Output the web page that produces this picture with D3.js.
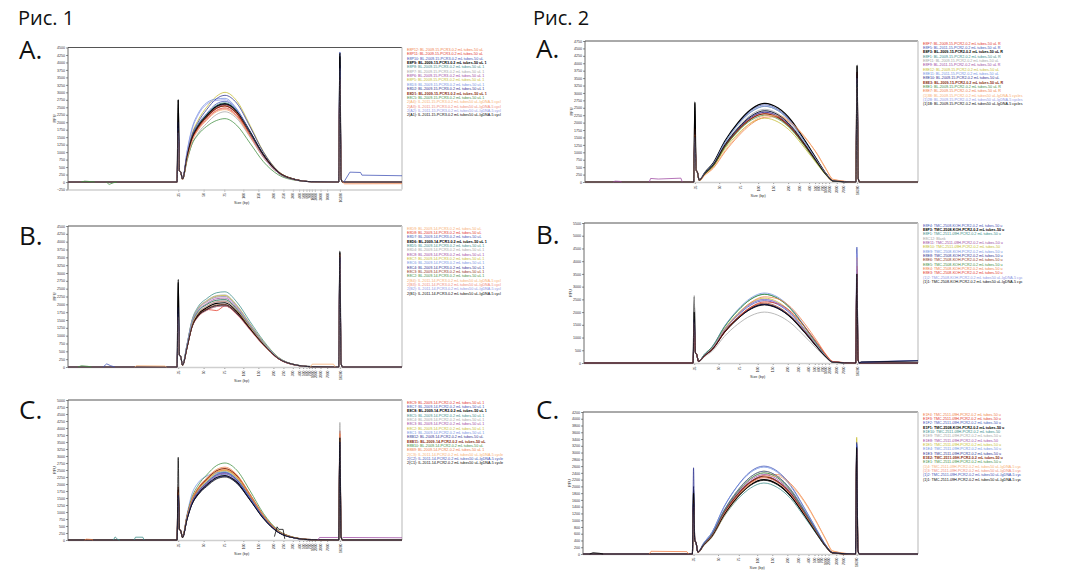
<!DOCTYPE html>
<html>
<head>
<meta charset="utf-8">
<script src="https://cdn.jsdelivr.net/npm/d3@7"></script>
<style>
  body { margin: 0; background: #fff; }
  svg text { font-family: "Liberation Sans", Arial, sans-serif; }
  .big { font-family: "Open Sans", "Noto Sans", sans-serif !important; }
</style>
</head>
<body>
<svg id="fig" width="1068" height="577"></svg>
<script>
// migration time points (arbitrary units 0..100) where smear values were read
var times1 = [34.3, 35.6, 37, 39, 41.5, 44.5, 47, 50.5, 54.5, 58.5, 63, 68, 73];
var times2 = [34.3, 36, 38.5, 42, 46, 50, 54, 58, 62, 66, 70, 72.5, 74.5];

// ladder ticks on the size axis
var sizeLabels1 = ["35","50","75","100","150","200","250","300","400","500","600","700","1000","2000","3000","7000","10380"];
var sizeTimes1 = [33, 40.6, 46.8, 52.5, 57, 61.5, 64.5, 67.3, 69.2, 70.4, 71.4, 72.2, 73, 73.9, 75.6, 77.6, 81.4];
var sizeLabels2 = ["35","50","75","100","150","200","300","400","500","600","700","1000","2000","3000","7000","10380"];
var sizeTimes2 = [33, 40.3, 46.5, 52, 56.5, 61, 64.3, 67.3, 69.1, 70.2, 71.2, 72.2, 73.3, 75.6, 77.6, 81.7];

// marker shoulders (RFU right after lower marker)
var lmTail1 = [380, 330];
var lmTail2 = [420, 330];

// ---------- Рис. 1 A ----------
var names1A = [
  "E8P12: BL-2009-15-PCR3-0.2 mL tubes-50 uL",
  "E8P11: BL-2009-15-PCR3-0.2 mL tubes-50 uL",
  "E8P10: BL-2009-15-PCR3-0.2 mL tubes-50 uL",
  "E8P9: BL-2009-15-PCR3-0.2 mL tubes-50 uL 1",
  "E8P8: BL-2009-15-PCR3-0.2 mL tubes-50 uL 1",
  "E8P7: BL-2009-15-PCR3-0.2 mL tubes-50 uL 1",
  "E8P6: BL-2009-15-PCR3-0.2 mL tubes-50 uL 1",
  "E8P5: BL-2009-15-PCR3-0.2 mL tubes-50 uL 1",
  "E8D3: BL-2009-15-PCR3-0.2 mL tubes-50 uL 1",
  "E8D2: BL-2009-15-PCR3-0.2 mL tubes-50 uL 1",
  "E8D1: BL-2009-15-PCR3-0.2 mL tubes-50 uL 1",
  "E8C5: BL-2009-15-PCR3-0.2 mL tubes-50 uL 1",
  "2(A4): IL-2011-15-PCR3-0.2 mL tubes50 uL-lgDNA-5 cycl",
  "2(A3): IL-2011-15-PCR3-0.2 mL tubes50 uL-lgDNA-5 cycl",
  "2(A2): IL-2011-15-PCR3-0.2 mL tubes50 uL-lgDNA-5 cycl",
  "2(A1): IL-2011-15-PCR3-0.2 mL tubes50 uL-lgDNA-5 cycl"
];
var lm1A = [1700, 1500, 1900, 2750, 1400, 1200, 1600, 1500, 1800, 2000, 1700, 1400, 1300, 1550, 1650, 2750];
var um1A = [3300, 3500, 4350, 4300, 3200, 3100, 3600, 3400, 3700, 3900, 3500, 3000, 3200, 3400, 3800, 4200];
var smear1A = [
  [100, 820, 1400, 1840, 2170, 2470, 2550, 2300, 1610, 870, 310, 80, 10],
  [100, 790, 1360, 1790, 2110, 2400, 2480, 2230, 1560, 840, 300, 75, 10],
  [100, 860, 1480, 1940, 2290, 2620, 2700, 2430, 1700, 920, 320, 80, 10],
  [100, 840, 1440, 1890, 2230, 2540, 2620, 2380, 1680, 920, 330, 85, 10],
  [100, 850, 1460, 1910, 2250, 2570, 2650, 2390, 1670, 900, 320, 80, 10],
  [90, 700, 1230, 1640, 1960, 2260, 2350, 2130, 1500, 820, 300, 80, 10],
  [100, 830, 1420, 1860, 2190, 2500, 2580, 2320, 1630, 880, 310, 80, 10],
  [100, 900, 1560, 2080, 2500, 2870, 3000, 2720, 1900, 1020, 360, 90, 10],
  [110, 1000, 1750, 2300, 2650, 2780, 2800, 2450, 1650, 860, 300, 75, 10],
  [100, 880, 1520, 2010, 2420, 2790, 2900, 2640, 1850, 1000, 350, 90, 10],
  [100, 820, 1400, 1840, 2170, 2470, 2550, 2300, 1620, 880, 320, 80, 10],
  [90, 700, 1230, 1590, 1860, 2060, 2120, 1900, 1300, 680, 240, 60, 10],
  [90, 760, 1320, 1740, 2060, 2350, 2420, 2180, 1530, 830, 300, 75, 10],
  [90, 770, 1340, 1760, 2080, 2380, 2450, 2200, 1540, 830, 300, 75, 10],
  [110, 980, 1700, 2250, 2600, 2730, 2750, 2420, 1640, 850, 300, 75, 10],
  [100, 830, 1430, 1870, 2210, 2520, 2600, 2360, 1660, 900, 320, 80, 10]
];
var extras1A = [
  [11, [[4, 0], [5, 30], [7, 12], [8, 0]]],
  [11, [[11.5, 0], [12.3, -80], [13.6, -25], [14.6, 0]]],
  [2, [[82.6, 0], [84.4, 330], [87.6, 320], [88, 230], [100, 210]]],
  [0, [[82.2, 0], [82.8, -60], [100, -55]]]
];

// ---------- Рис. 1 B ----------
var names1B = [
  "E8D9: BL-2009-14-PCR3-0.2 mL tubes-50 uL",
  "E8D8: BL-2009-14-PCR3-0.2 mL tubes-50 uL",
  "E8D7: BL-2009-14-PCR3-0.2 mL tubes-50 uL",
  "E8D6: BL-2009-14-PCR3-0.2 mL tubes-50 uL 1",
  "E8D5: BL-2009-14-PCR3-0.2 mL tubes-50 uL 1",
  "E8D4: BL-2009-14-PCR3-0.2 mL tubes-50 uL 1",
  "E8C8: BL-2009-14-PCR3-0.2 mL tubes-50 uL 1",
  "E8C7: BL-2009-14-PCR3-0.2 mL tubes-50 uL 1",
  "E8C6: BL-2009-14-PCR3-0.2 mL tubes-50 uL 1",
  "E8C4: BL-2009-14-PCR3-0.2 mL tubes-50 uL 1",
  "E8C3: BL-2009-14-PCR3-0.2 mL tubes-50 uL 1",
  "E8C2: BL-2009-14-PCR3-0.2 mL tubes-50 uL 1",
  "2(B4): IL-2011-14-PCR3-0.2 mL tubes50 uL-lgDNA-5 cycl",
  "2(B3): IL-2011-14-PCR3-0.2 mL tubes50 uL-lgDNA-5 cycl",
  "2(B2): IL-2011-14-PCR3-0.2 mL tubes50 uL-lgDNA-5 cycl",
  "2(B1): IL-2011-14-PCR3-0.2 mL tubes50 uL-lgDNA-5 cycl"
];
var lm1B = [1300, 1600, 1500, 2800, 1400, 1200, 1500, 1300, 1700, 1900, 1600, 1400, 1300, 1500, 1600, 2700];
var um1B = [3400, 3100, 3500, 3700, 3200, 3000, 3300, 3100, 3400, 3500, 3200, 2800, 3300, 3600, 3500, 3650];
var smear1B = [
  [70, 680, 1400, 1850, 2070, 2230, 2250, 1940, 1350, 790, 290, 70, 10],
  [60, 600, 1240, 1640, 1840, 1800, 1950, 1700, 1200, 700, 260, 60, 10],
  [60, 630, 1300, 1720, 1930, 2080, 2100, 1810, 1260, 740, 270, 65, 10],
  [60, 620, 1270, 1680, 1890, 2030, 2050, 1780, 1250, 740, 280, 70, 10],
  [70, 700, 1450, 1930, 2180, 2370, 2400, 2080, 1450, 840, 310, 75, 10],
  [70, 690, 1420, 1890, 2120, 2280, 2300, 1980, 1380, 800, 300, 70, 10],
  [60, 660, 1360, 1800, 2020, 2180, 2200, 1890, 1320, 770, 290, 70, 10],
  [70, 680, 1410, 1870, 2100, 2260, 2280, 1960, 1370, 800, 300, 70, 10],
  [70, 690, 1380, 1800, 1990, 2130, 2150, 1850, 1290, 750, 280, 65, 10],
  [60, 600, 1230, 1620, 1810, 1930, 1950, 1700, 1200, 700, 260, 65, 10],
  [60, 610, 1250, 1650, 1850, 1980, 2000, 1740, 1230, 720, 270, 70, 10],
  [60, 650, 1330, 1770, 1990, 2130, 2150, 1850, 1290, 750, 280, 65, 10],
  [60, 630, 1300, 1720, 1930, 2080, 2100, 1810, 1270, 740, 280, 70, 10],
  [60, 590, 1220, 1600, 1800, 1930, 1950, 1680, 1180, 690, 260, 60, 10],
  [70, 690, 1400, 1860, 2080, 2230, 2250, 1930, 1350, 780, 290, 70, 10],
  [60, 600, 1240, 1630, 1830, 1960, 1980, 1720, 1220, 720, 270, 70, 10]
];
var extras1B = [
  [2, [[10.5, 0], [11.6, 100], [12.8, 40], [14, 0]]],
  [11, [[3, 0], [4, 40], [6, 20], [7, 0]]],
  [0, [[20, 0], [20.5, 40], [29, 30], [29.5, 0]]],
  [0, [[72.6, 0], [73.1, 90], [79.5, 90], [80, 0]]]
];

// ---------- Рис. 1 C ----------
var names1C = [
  "E8C9: BL-2009-14-PCR2-0.2 mL tubes-50 uL 1",
  "E8C7: BL-2009-14-PCR2-0.2 mL tubes-50 uL 1",
  "E8C8: BL-2009-14-PCR2-0.2 mL tubes-50 uL 1",
  "E8C5: BL-2009-14-PCR2-0.2 mL tubes-50 uL 1",
  "E8C4: BL-2009-14-PCR2-0.2 mL tubes-50 uL 1",
  "E8C3: BL-2009-14-PCR2-0.2 mL tubes-50 uL 1",
  "E8C2: BL-2009-14-PCR2-0.2 mL tubes-50 uL 1",
  "E8C1: BL-2009-14-PCR2-0.2 mL tubes-50 uL 1",
  "E8B12: BL-2009-14-PCR2-0.2 mL tubes-50 uL",
  "E8B11: BL-2009-14-PCR2-0.2 mL tubes-50 uL",
  "E8B10: BL-2009-14-PCR2-0.2 mL tubes-50 uL",
  "E8B9: BL-2009-14-PCR2-0.2 mL tubes-50 uL 1",
  "2(C3): IL-2011-14-PCR2-0.2 mL tubes50 uL-lgDNA-5 cycle",
  "2(C2): IL-2011-14-PCR2-0.2 mL tubes50 uL-lgDNA-5 cycle",
  "2(C1): IL-2011-14-PCR2-0.2 mL tubes50 uL-lgDNA-5 cycle"
];
var lm1C = [1600, 1500, 1800, 1400, 1300, 1500, 1400, 1600, 1700, 1900, 1500, 1700, 1400, 1600, 2950];
var um1C = [3900, 3600, 3500, 3300, 4200, 3400, 3200, 3700, 3300, 3000, 3400, 3800, 3600, 3500, 3650];
var smear1C = [
  [100, 800, 1380, 1800, 2130, 2430, 2500, 2250, 1580, 850, 300, 75, 10],
  [90, 750, 1290, 1690, 2000, 2280, 2350, 2120, 1480, 800, 280, 70, 10],
  [90, 740, 1270, 1660, 1960, 2230, 2300, 2070, 1450, 780, 280, 70, 10],
  [100, 780, 1330, 1740, 2060, 2350, 2420, 2180, 1520, 820, 290, 70, 10],
  [100, 790, 1350, 1760, 2080, 2380, 2450, 2200, 1540, 830, 290, 70, 10],
  [90, 760, 1310, 1710, 2020, 2310, 2380, 2140, 1500, 810, 290, 70, 10],
  [100, 800, 1360, 1790, 2110, 2410, 2480, 2230, 1560, 840, 300, 75, 10],
  [110, 900, 1600, 2050, 2280, 2400, 2420, 2150, 1480, 790, 280, 70, 10],
  [90, 730, 1250, 1640, 1940, 2210, 2280, 2050, 1440, 780, 270, 70, 10],
  [100, 820, 1400, 1840, 2170, 2470, 2550, 2300, 1610, 870, 310, 80, 10],
  [100, 850, 1480, 1960, 2320, 2660, 2750, 2500, 1760, 950, 340, 85, 10],
  [100, 830, 1430, 1870, 2210, 2520, 2600, 2340, 1640, 890, 320, 80, 10],
  [100, 810, 1390, 1810, 2140, 2440, 2520, 2270, 1590, 860, 300, 75, 10],
  [90, 770, 1320, 1730, 2040, 2330, 2400, 2160, 1510, 820, 290, 70, 10],
  [90, 720, 1240, 1620, 1910, 2180, 2250, 2030, 1420, 770, 270, 70, 10]
];
var extras1C = [
  [3, [[13.6, 0], [14.1, 110], [14.9, 20], [15.5, 0]]],
  [3, [[19.8, 0], [20.2, 100], [22.4, 100], [22.8, 0]]],
  [11, [[5, 0], [5.5, 30], [7, 20], [7.5, 0]]],
  [14, [[61.8, 120], [62.6, 470], [63.1, 380], [64.4, 380], [64.9, 40]]],
  [5, [[74.8, 0], [75.3, 90], [80.8, 90]]],
  [5, [[82.2, 90], [100, 80]]]
];

// ---------- Рис. 2 A ----------
var names2A = [
  "E8F7: BL-2009-15-PCR2-0.2 mL tubes-50 uL R",
  "E8F5: BL-2011-15-PCR2-0.2 mL tubes-50 uL R",
  "E8F3: BL-2009-15-PCR2-0.2 mL tubes-50 uL R",
  "E8F1: BL-2009-15-PCR2-0.2 mL tubes-50 uL R",
  "E8F11: BL-2009-15-PCR2-0.2 mL tubes-50 uL",
  "E8F9: BL-2011-15-PCR2-0.2 mL tubes-50 uL R",
  "E8E12: BL-2009-15-PCR2-0.2 mL tubes-50 uL",
  "E8E11: BL-2011-15-PCR2-0.2 mL tubes-50 uL",
  "E8E10: BL-2009-15-PCR2-0.2 mL tubes-50 uL",
  "E8E3: BL-2009-15-PCR2-0.2 mL tubes-50 uL R",
  "E8E1: BL-2009-15-PCR2-0.2 mL tubes-50 uL R",
  "E8E7: BL-2009-15-PCR2-0.2 mL tubes-50 uL R",
  "(1)3B: BL-2009-15-PCR2-0.2 mL tubes50 uL-lgDNA-5 cycles",
  "(1)2B: BL-2009-15-PCR2-0.2 mL tubes50 uL-lgDNA-5 cycles",
  "(1)1B: BL-2009-15-PCR2-0.2 mL tubes50 uL-lgDNA-5 cycles"
];
var lm2A = [1700, 1500, 2700, 1400, 1300, 1600, 1300, 1500, 1700, 1800, 1400, 1600, 1300, 1500, 2650];
var um2A = [3400, 3700, 3950, 3300, 3100, 3500, 3000, 3400, 3600, 3700, 3300, 3200, 3000, 3500, 3900];
var smear2A = [
  [60, 280, 550, 1200, 1750, 2140, 2300, 2160, 1790, 1220, 600, 230, 35],
  [60, 310, 620, 1350, 1980, 2420, 2600, 2440, 2030, 1380, 680, 260, 40],
  [60, 320, 640, 1380, 2010, 2460, 2650, 2490, 2070, 1400, 690, 265, 40],
  [60, 310, 610, 1330, 1940, 2370, 2550, 2400, 1990, 1350, 660, 255, 40],
  [60, 290, 590, 1270, 1860, 2280, 2450, 2300, 1910, 1300, 640, 245, 40],
  [60, 280, 560, 1220, 1790, 2190, 2350, 2210, 1830, 1250, 610, 235, 35],
  [55, 260, 520, 1120, 1630, 2000, 2150, 2020, 1680, 1140, 560, 215, 30],
  [60, 290, 580, 1250, 1820, 2230, 2400, 2260, 1870, 1270, 620, 240, 35],
  [60, 280, 560, 1220, 1790, 2190, 2350, 2210, 1830, 1250, 610, 235, 35],
  [60, 280, 550, 1200, 1750, 2140, 2300, 2170, 1800, 1240, 620, 240, 35],
  [55, 270, 540, 1170, 1710, 2090, 2250, 2120, 1760, 1200, 590, 225, 35],
  [50, 230, 460, 1010, 1540, 1960, 2180, 2200, 1960, 1500, 900, 420, 90],
  [50, 240, 480, 1050, 1590, 2010, 2230, 2250, 2000, 1530, 880, 400, 80],
  [60, 310, 610, 1330, 1940, 2370, 2550, 2400, 1990, 1350, 660, 255, 40],
  [60, 290, 580, 1250, 1820, 2230, 2400, 2260, 1870, 1270, 620, 240, 35]
];
var extras2A = [
  [5, [[19.3, 0], [19.7, 120], [22, 100], [28.8, 130], [29.2, 0]]],
  [5, [[8.5, 0], [9, 30], [10.5, 20], [11, 0]]]
];

// ---------- Рис. 2 B ----------
var names2B = [
  "E8F4: TMC-2508-KOH-PCR2-0.2 mL tubes-50 u",
  "E8F3: TMC-2508-KOH-PCR2-0.2 mL tubes-50 u",
  "E8F1: TMC-2511-09H-PCR2-0.2 mL tubes-50 u",
  "E8C12: Blank",
  "E8E11: TMC-2511-09H-PCR2-0.2 mL tubes-50 u",
  "E8E10: TMC-2511-09H-PCR2-0.2 mL tubes-50",
  "E8E9: TMC-2508-KOH-PCR2-0.2 mL tubes-50 u",
  "E8E8: TMC-2508-KOH-PCR2-0.2 mL tubes-50 u",
  "E8E6: TMC-2508-KOH-PCR2-0.2 mL tubes-50 u",
  "E8E5: TMC-2508-KOH-PCR2-0.2 mL tubes-50 u",
  "E8E4: TMC-2508-KOH-PCR2-0.2 mL tubes-50 u",
  "E8E3: TMC-2508-KOH-PCR2-0.2 mL tubes-50 u",
  "(1)2: TMC-2508-KOH-PCR2-0.2 mL tubes50 uL-lgDNA-5 cyc",
  "(1)1: TMC-2508-KOH-PCR2-0.2 mL tubes50 uL-lgDNA-5 cyc"
];
var lm2B = [1500, 2600, 1400, 2650, 1300, 1200, 1500, 1700, 1600, 1400, 1300, 1500, 1600, 2000];
var um2B = [4550, 3600, 3300, 3000, 3400, 3200, 3900, 3700, 3500, 3300, 4150, 3800, 4300, 3500];
var smear2B = [
  [60, 300, 600, 1290, 1860, 2280, 2450, 2300, 1910, 1300, 640, 245, 40],
  [60, 280, 560, 1210, 1750, 2140, 2300, 2160, 1790, 1220, 600, 230, 35],
  [60, 330, 660, 1420, 2050, 2510, 2700, 2540, 2110, 1430, 700, 270, 40],
  [50, 240, 480, 1040, 1520, 1860, 2000, 1880, 1560, 1060, 520, 200, 30],
  [60, 300, 600, 1300, 1900, 2330, 2500, 2350, 1950, 1330, 650, 250, 40],
  [60, 310, 610, 1330, 1940, 2370, 2550, 2400, 1990, 1350, 660, 255, 40],
  [60, 330, 660, 1430, 2090, 2560, 2750, 2590, 2150, 1460, 720, 275, 40],
  [60, 280, 550, 1200, 1750, 2140, 2300, 2160, 1800, 1220, 600, 230, 35],
  [60, 280, 560, 1220, 1790, 2190, 2350, 2210, 1830, 1250, 610, 235, 35],
  [60, 330, 650, 1400, 2050, 2510, 2700, 2540, 2110, 1430, 700, 270, 40],
  [55, 290, 580, 1280, 1900, 2380, 2600, 2520, 2180, 1560, 820, 330, 60],
  [55, 270, 540, 1180, 1760, 2200, 2400, 2330, 2010, 1440, 760, 310, 55],
  [60, 300, 600, 1300, 1900, 2330, 2500, 2350, 1950, 1330, 650, 250, 40],
  [60, 280, 550, 1190, 1730, 2120, 2280, 2140, 1780, 1210, 590, 230, 35]
];
var extras2B = [
  [7, [[82.3, 0], [83, 40], [100, 100]]],
  [0, [[82.3, 0], [83, 30], [100, 90]]],
  [13, [[82.3, 0], [83, 40], [100, 80]]]
];

// ---------- Рис. 2 C ----------
var names2C = [
  "E1F4: TMC-2511-09H-PCR2-0.2 mL tubes-50 u",
  "E1F3: TMC-2511-09H-PCR2-0.2 mL tubes-50 u",
  "E1F2: TMC-2511-09H-PCR2-0.2 mL tubes-50 u",
  "E1F1: TMC-2508-KOH-PCR2-0.2 mL tubes-50 u",
  "E1E10: TMC-2511-09H-PCR2-0.2 mL tubes-50",
  "E1E9: TMC-2511-09H-PCR2-0.2 mL tubes-50 u",
  "E1E8: TMC-2511-09H-PCR2-0.2 mL tubes-50",
  "E1E5: TMC-2511-09H-PCR2-0.2 mL tubes-50 u",
  "E1E4: TMC-2511-09H-PCR2-0.2 mL tubes-50 u",
  "E1E3: TMC-2511-09H-PCR2-0.2 mL tubes-50 u",
  "E1E2: TMC-2511-09H-PCR2-0.2 mL tubes-50 u",
  "E1E1: TMC-2511-09H-PCR2-0.2 mL tubes-50 u",
  "(1)4: TMC-2511-09H-PCR2-0.2 mL tubes50 uL-lgDNA-5 cyc",
  "(1)3: TMC-2511-09H-PCR2-0.2 mL tubes50 uL-lgDNA-5 cyc",
  "(1)2: TMC-2511-09H-PCR2-0.2 mL tubes50 uL-lgDNA-5 cyc",
  "(1)1: TMC-2511-09H-PCR2-0.2 mL tubes50 uL-lgDNA-5 cyc"
];
var lm2C = [1300, 1400, 1500, 2000, 1200, 1300, 1400, 1300, 1500, 2550, 1600, 1300, 1200, 1400, 1500, 1800];
var um2C = [3000, 3100, 3200, 3000, 2900, 2800, 3000, 3450, 3200, 3300, 3100, 2900, 3000, 3100, 3250, 3150];
var smear2C = [
  [55, 260, 520, 1140, 1700, 2120, 2330, 2350, 2080, 1580, 900, 430, 90],
  [60, 280, 550, 1200, 1750, 2140, 2300, 2160, 1790, 1220, 600, 230, 35],
  [60, 320, 640, 1380, 2000, 2440, 2600, 2450, 2030, 1380, 680, 260, 40],
  [55, 260, 530, 1140, 1670, 2050, 2200, 2070, 1720, 1170, 570, 220, 35],
  [50, 250, 500, 1090, 1600, 1950, 2100, 1970, 1640, 1110, 550, 210, 30],
  [60, 290, 580, 1250, 1820, 2230, 2400, 2260, 1870, 1270, 620, 240, 35],
  [60, 280, 560, 1220, 1790, 2190, 2350, 2210, 1830, 1250, 610, 235, 35],
  [60, 290, 590, 1270, 1860, 2280, 2450, 2300, 1910, 1300, 640, 245, 40],
  [60, 320, 640, 1370, 1990, 2410, 2570, 2420, 2000, 1360, 670, 255, 40],
  [60, 280, 550, 1200, 1750, 2140, 2300, 2160, 1790, 1220, 600, 230, 35],
  [60, 270, 550, 1190, 1730, 2120, 2280, 2140, 1780, 1210, 590, 230, 35],
  [60, 290, 580, 1250, 1820, 2230, 2400, 2260, 1870, 1270, 620, 240, 35],
  [50, 250, 500, 1100, 1650, 2070, 2280, 2300, 2040, 1550, 880, 420, 85],
  [55, 270, 540, 1170, 1710, 2090, 2250, 2120, 1760, 1200, 590, 225, 35],
  [60, 290, 590, 1270, 1860, 2280, 2450, 2300, 1910, 1300, 640, 245, 40],
  [55, 260, 520, 1130, 1660, 2030, 2180, 2050, 1700, 1160, 570, 220, 35]
];
var extras2C = [
  [0, [[19.8, 0], [20.3, 80], [31, 70], [31.5, 0]]],
  [15, [[2, 0], [3, 40], [5, 20], [6, 0]]]
];

// trace colours (Bioanalyzer overlay palette)
var ORANGE = "#f07b3f", RED = "#e2321f", BLUE = "#3c4fb4", BLACK = "#000000",
    TEAL = "#358a86", GREY = "#a3a3a3", PURPLE = "#9c45a0", OLIVE = "#c4bb2c",
    LBLUE = "#6f8fe2", NAVY = "#2b2f8e", BROWN = "#8a2e12", GREEN = "#3c8c3c",
    LORANGE = "#f7ad70", SALMON = "#ee8878", PERI = "#8d94e4";

var panels = [
  { letter: "A.", lx: 19, ly: 59, left: 68, right: 402, top: 47.5, bottom: 189.5, yDomain: [-250, 4500], yStep: 250,
    times: times1, ticks: sizeTimes1, labels: sizeLabels1, lmAt: 33, umAt: 81.4, lmTail: lmTail1,
    names: names1A, lm: lm1A, um: um1A, smear: smear1A, extras: extras1A, bold: [3, 10],
    colors: [ORANGE, RED, BLUE, BLACK, TEAL, GREY, PURPLE, OLIVE, LBLUE, NAVY, BROWN, GREEN, LORANGE, SALMON, PERI, BLACK] },
  { letter: "B.", lx: 19, ly: 245, left: 68, right: 402, top: 226, bottom: 367, yDomain: [0, 4500], yStep: 250,
    times: times1, ticks: sizeTimes1, labels: sizeLabels1, lmAt: 33, umAt: 81.4, lmTail: lmTail1,
    names: names1B, lm: lm1B, um: um1B, smear: smear1B, extras: extras1B, bold: [3],
    colors: [LORANGE, RED, BLUE, BLACK, TEAL, GREY, PURPLE, OLIVE, LBLUE, NAVY, BROWN, GREEN, LORANGE, SALMON, PERI, BLACK] },
  { letter: "C.", lx: 19, ly: 419, left: 68, right: 402, top: 400, bottom: 540, yDomain: [0, 5000], yStep: 250,
    times: times1, ticks: sizeTimes1, labels: sizeLabels1, lmAt: 33, umAt: 81.4, lmTail: lmTail1,
    names: names1C, lm: lm1C, um: um1C, smear: smear1C, extras: extras1C, bold: [2, 9],
    colors: [RED, BLUE, BLACK, TEAL, GREY, PURPLE, OLIVE, LBLUE, NAVY, BROWN, GREEN, ORANGE, LORANGE, BLUE, BLACK] },
  { letter: "A.", lx: 536, ly: 58, left: 585, right: 918, top: 41, bottom: 182, yDomain: [0, 4750], yStep: 250,
    times: times2, ticks: sizeTimes2, labels: sizeLabels2, lmAt: 33, umAt: 81.7, lmTail: lmTail2,
    names: names2A, lm: lm2A, um: um2A, smear: smear2A, extras: extras2A, bold: [2, 9],
    colors: [RED, BLUE, BLACK, TEAL, GREY, PURPLE, OLIVE, LBLUE, NAVY, BROWN, GREEN, ORANGE, LORANGE, PERI, BLACK] },
  { letter: "B.", lx: 536, ly: 244, left: 584, right: 918, top: 223, bottom: 363, yDomain: [0, 5500], yStep: 500,
    times: times2, ticks: sizeTimes2, labels: sizeLabels2, lmAt: 33, umAt: 81.7, lmTail: lmTail2,
    names: names2B, lm: lm2B, um: um2B, smear: smear2B, extras: extras2B, bold: [1],
    colors: [BLUE, BLACK, TEAL, GREY, PURPLE, OLIVE, LBLUE, NAVY, BROWN, GREEN, ORANGE, RED, PERI, BLACK] },
  { letter: "C.", lx: 536, ly: 419, left: 583, right: 918, top: 412, bottom: 554, yDomain: [0, 4200], yStep: 200,
    times: times2, ticks: sizeTimes2, labels: sizeLabels2, lmAt: 33, umAt: 81.7, lmTail: lmTail2,
    names: names2C, lm: lm2C, um: um2C, smear: smear2C, extras: extras2C, bold: [3, 10],
    colors: [ORANGE, RED, BLUE, BLACK, TEAL, GREY, PURPLE, OLIVE, LBLUE, NAVY, BROWN, GREEN, LORANGE, SALMON, BLUE, BLACK] }
];

var svg = d3.select("#fig");

svg.append("text").attr("class", "big").attr("x", 18).attr("y", 25)
  .attr("font-size", 20).attr("fill", "#111").text("Рис. 1");
svg.append("text").attr("class", "big").attr("x", 533).attr("y", 25)
  .attr("font-size", 20).attr("fill", "#111").text("Рис. 2");

panels.forEach(drawPanel);

function tracePoints(p, i) {
  var pts = [[0, 0], [p.lmAt - 0.35, 0], [p.lmAt, p.lm[i]], [p.lmAt + 0.35, p.lmTail[0]], [p.lmAt + 0.75, p.lmTail[1]]];
  p.times.forEach(function(t, k) { pts.push([t, p.smear[i][k]]); });
  pts.push([p.umAt - 0.35, 0], [p.umAt, p.um[i]], [p.umAt + 0.35, 120], [p.umAt + 0.8, 0], [100, 0]);
  return pts;
}

function drawPanel(p) {
  var x = d3.scaleLinear().domain([0, 100]).range([p.left, p.right]);
  var y = d3.scaleLinear().domain(p.yDomain).range([p.bottom, p.top]);
  var g = svg.append("g");

  g.append("text").attr("class", "big").attr("x", p.lx).attr("y", p.ly)
    .attr("font-size", 26).attr("fill", "#111").text(p.letter);

  // y axis
  var yAxis = d3.axisLeft(y)
    .tickValues(d3.range(p.yDomain[0], p.yDomain[1] + 1, p.yStep))
    .tickSize(2).tickPadding(1).tickFormat(d3.format("d"));
  var ya = g.append("g").attr("transform", "translate(" + p.left + ",0)").call(yAxis);
  ya.select(".domain").remove();
  ya.selectAll("line").attr("stroke", "#444").attr("stroke-width", 0.6);
  ya.selectAll("text").attr("font-size", 3.6).attr("fill", "#333");

  // x axis (size ladder)
  var xAxis = d3.axisBottom(x).tickValues(p.ticks)
    .tickFormat(function(d, i) { return p.labels[i]; }).tickSize(2);
  var xa = g.append("g").attr("transform", "translate(0," + p.bottom + ")").call(xAxis);
  xa.select(".domain").remove();
  xa.selectAll("line").attr("stroke", "#444").attr("stroke-width", 0.6);
  xa.selectAll("text").attr("font-size", 3.4).attr("fill", "#333")
    .attr("transform", "rotate(-90)").attr("x", -3.5).attr("y", 0).attr("dy", "0.35em")
    .style("text-anchor", "end");

  // frame
  g.append("line").attr("x1", p.left).attr("x2", p.right).attr("y1", p.top).attr("y2", p.top)
    .attr("stroke", "#555").attr("stroke-width", 1);
  g.append("line").attr("x1", p.right).attr("x2", p.right).attr("y1", p.top).attr("y2", p.bottom)
    .attr("stroke", "#cfcfcf").attr("stroke-width", 1.5);
  g.append("line").attr("x1", p.left).attr("x2", p.right).attr("y1", p.bottom + 0.5).attr("y2", p.bottom + 0.5)
    .attr("stroke", "#cfcfcf").attr("stroke-width", 1.5);
  g.append("line").attr("x1", p.left).attr("x2", p.left).attr("y1", p.top).attr("y2", p.bottom)
    .attr("stroke", "#444").attr("stroke-width", 0.8);

  g.append("text").attr("transform", "translate(" + (p.left - 12) + "," + ((p.top + p.bottom) / 2) + ")rotate(-90)")
    .attr("text-anchor", "middle").attr("font-size", 3.8).attr("fill", "#333").text("RFU");
  g.append("text").attr("x", p.left + 0.52 * (p.right - p.left)).attr("y", p.bottom + 14.5)
    .attr("text-anchor", "middle").attr("font-size", 3.8).attr("fill", "#333").text("Size (bp)");

  var line = d3.line().x(function(d) { return x(d[0]); }).y(function(d) { return y(d[1]); })
    .curve(d3.curveMonotoneX);
  var plain = d3.line().x(function(d) { return x(d[0]); }).y(function(d) { return y(d[1]); });

  var traces = g.append("g").attr("fill", "none");
  p.names.forEach(function(n, i) {
    traces.append("path").attr("d", line(tracePoints(p, i)))
      .attr("stroke", p.colors[i])
      .attr("stroke-width", p.bold.indexOf(i) >= 0 ? 1.2 : 0.75);
  });
  p.extras.forEach(function(e) {
    traces.append("path").attr("d", plain(e[1]))
      .attr("stroke", p.colors[e[0]]).attr("stroke-width", 0.75);
  });

  // legend
  var leg = g.append("g").attr("transform", "translate(" + (p.right + 5) + "," + (p.top + 3.5) + ")");
  leg.selectAll("text").data(p.names).enter().append("text")
    .attr("x", 0).attr("y", function(d, i) { return i * 4.35; })
    .attr("font-size", 3.7)
    .attr("font-weight", function(d, i) { return p.bold.indexOf(i) >= 0 ? "bold" : "normal"; })
    .attr("fill", function(d, i) { return p.colors[i]; })
    .text(function(d) { return d; });
}
</script>
</body>
</html>
